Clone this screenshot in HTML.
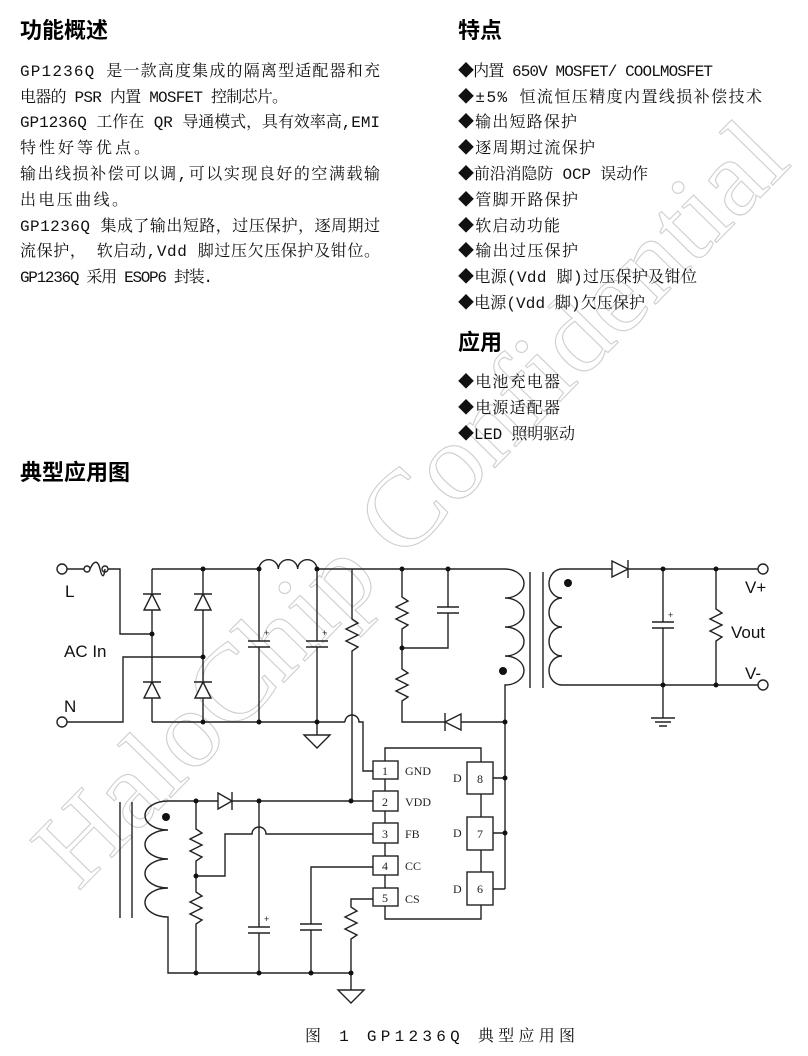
<!DOCTYPE html>
<html><head><meta charset="utf-8"><style>
html,body{margin:0;padding:0;background:#fff;width:808px;height:1056px;overflow:hidden}
svg{display:block}
.t{font-family:"Liberation Mono","Noto Serif CJK SC",monospace;font-size:16px;fill:#111}
.h{font-family:"Liberation Sans","Noto Sans CJK SC",sans-serif;font-size:22px;font-weight:bold;fill:#000}
.w{stroke:#222;stroke-width:1.4;fill:none}
.lab{font-family:"Liberation Sans",sans-serif;font-size:17px;fill:#111}
.pin{font-family:"Liberation Serif",serif;font-size:12px;fill:#222}
</style></head><body>
<svg width="808" height="1056" viewBox="0 0 808 1056" xmlns="http://www.w3.org/2000/svg">
<text transform="translate(78,892) rotate(-45.5)" font-family="Liberation Serif,serif" font-size="108" fill="none" stroke="#cfcfcf" stroke-width="1.1" textLength="1020" lengthAdjust="spacingAndGlyphs">HaloChip Confidential</text>

<text class="h" x="20" y="38">功能概述</text>
<text class="h" x="458" y="38">特点</text>
<text class="h" x="458" y="350">应用</text>
<text class="h" x="20" y="480">典型应用图</text>

<g class="t">
<text x="20" y="76" textLength="360" lengthAdjust="spacing">GP1236Q 是一款高度集成的隔离型适配器和充</text>
<text x="20" y="102" textLength="268" lengthAdjust="spacing">电器的 PSR 内置 MOSFET 控制芯片。</text>
<text x="20" y="127" textLength="360" lengthAdjust="spacing">GP1236Q 工作在 QR 导通模式，具有效率高,EMI</text>
<text x="20" y="153" textLength="130" lengthAdjust="spacing">特性好等优点。</text>
<text x="20" y="179" textLength="360" lengthAdjust="spacing">输出线损补偿可以调,可以实现良好的空满载输</text>
<text x="20" y="205" textLength="108" lengthAdjust="spacing">出电压曲线。</text>
<text x="20" y="231" textLength="360" lengthAdjust="spacing">GP1236Q 集成了输出短路，过压保护，逐周期过</text>
<text x="20" y="256" textLength="360" lengthAdjust="spacing">流保护， 软启动,Vdd 脚过压欠压保护及钳位。</text>
<text x="20" y="282" textLength="193" lengthAdjust="spacing">GP1236Q 采用 ESOP6 封装.</text>
</g>
<g class="t">
<text x="458" y="76" textLength="255" lengthAdjust="spacing">◆内置 650V MOSFET/ COOLMOSFET</text>
<text x="458" y="102" textLength="304" lengthAdjust="spacing">◆±5% 恒流恒压精度内置线损补偿技术</text>
<text x="458" y="127" textLength="119" lengthAdjust="spacing">◆输出短路保护</text>
<text x="458" y="153" textLength="137" lengthAdjust="spacing">◆逐周期过流保护</text>
<text x="458" y="179" textLength="190" lengthAdjust="spacing">◆前沿消隐防 OCP 误动作</text>
<text x="458" y="205" textLength="120" lengthAdjust="spacing">◆管脚开路保护</text>
<text x="458" y="231" textLength="102" lengthAdjust="spacing">◆软启动功能</text>
<text x="458" y="256" textLength="120" lengthAdjust="spacing">◆输出过压保护</text>
<text x="458" y="282" textLength="239" lengthAdjust="spacing">◆电源(Vdd 脚)过压保护及钳位</text>
<text x="458" y="308" textLength="187" lengthAdjust="spacing">◆电源(Vdd 脚)欠压保护</text>
<text x="458" y="387" textLength="102" lengthAdjust="spacing">◆电池充电器</text>
<text x="458" y="413" textLength="102" lengthAdjust="spacing">◆电源适配器</text>
<text x="458" y="439" textLength="117" lengthAdjust="spacing">◆LED 照明驱动</text>
</g>

<g class="w">
<circle cx="62" cy="569" r="5" fill="#fff"/>
<circle cx="62" cy="722" r="5" fill="#fff"/>
<circle cx="763" cy="569" r="5" fill="#fff"/>
<circle cx="763" cy="685" r="5" fill="#fff"/>
<path d="M67,569 H84"/><circle cx="87" cy="569" r="3"/>
<path d="M90,569 C94,560 98,560 100,569 S104,578 105,569"/>
<circle cx="105" cy="569" r="3"/>
<path d="M108,569 H120 V634 H152"/>
<path d="M67,722 H123 V657 H203"/>
<path d="M152,569 H259 M152,569 V722 M203,569 V722 M152,722 H345"/>
<path d="M259,569 a9.67,9.67 0 0 1 19.33,0 a9.67,9.67 0 0 1 19.33,0 a9.67,9.67 0 0 1 19.33,0"/>
<path d="M317,569 H505"/>
<path d="M259,569 V641 M248,641 H270 M248,647 H270 M259,647 V722"/>
<path d="M317,569 V641 M306,641 H328 M306,647 H328 M317,647 V735"/>
<path d="M304,735 H330 L317,748 Z"/>
<path d="M352,569 V619 L358,623 L346,629 L358,635 L346,641 L358,647 L352,651 V801"/>
<path d="M345,722 a7,7 0 0 1 14,0 H363 V771 H373"/>
<path d="M402,569 V597 L408,601 L396,607 L408,613 L396,619 L408,625 L402,629 V669 L408,673 L396,679 L408,685 L396,691 L408,697 L402,701 V722 H445"/>
<path d="M448,569 V607 M437,607 H459 M437,613 H459 M448,613 V648 H402"/>
<path d="M461,722 H505"/>
<path d="M505,569 a19,14.5 0 0 1 0,29 a19,14.5 0 0 1 0,29 a19,14.5 0 0 1 0,29 a19,14.5 0 0 1 0,29 V889"/>
<path d="M530,572 V688 M543,572 V688"/>
<path d="M612,569 H562 a13,14.5 0 0 0 0,29 a13,14.5 0 0 0 0,29 a13,14.5 0 0 0 0,29 a13,14.5 0 0 0 0,29 H758"/>
<path d="M628,569 H758"/>
<path d="M663,569 V622 M652,622 H674 M652,628 H674 M663,628 V718"/>
<path d="M651,718 H675 M655,722 H671 M659,726 H667"/>
<path d="M716,569 V609 L722,613 L710,619 L722,625 L710,631 L722,637 L716,641 V685"/>
<path d="M385,748 H481 V919 H385 Z" fill="#fff"/>
<rect x="373" y="761" width="25" height="18" fill="#fff"/>
<rect x="373" y="791" width="25" height="20" fill="#fff"/>
<rect x="373" y="823" width="25" height="20" fill="#fff"/>
<rect x="373" y="856" width="25" height="19" fill="#fff"/>
<rect x="373" y="888" width="25" height="18" fill="#fff"/>
<rect x="467" y="762" width="26" height="32" fill="#fff"/>
<rect x="467" y="817" width="26" height="33" fill="#fff"/>
<rect x="467" y="872" width="26" height="33" fill="#fff"/>
<path d="M493,778 H505 M493,833 H505 M493,889 H505"/>
<path d="M120,802 V918 M132,802 V918"/>
<path d="M218,801 H168 a23,14.5 0 0 0 0,29 a23,14.5 0 0 0 0,29 a23,14.5 0 0 0 0,29 a23,14.5 0 0 0 0,29 V973 H351"/>
<path d="M232,801 H373"/>
<path d="M196,801 V829 L202,833 L190,839 L202,845 L190,851 L202,857 L196,861 V892 L202,896 L190,902 L202,908 L190,914 L202,920 L196,924 V973"/>
<path d="M196,876 H225 V834 H252 a7,7 0 0 1 14,0 H373"/>
<path d="M259,801 V927 M248,927 H270 M248,933 H270 M259,933 V973"/>
<path d="M373,867 H311 V924 M300,924 H322 M300,930 H322 M311,930 V973"/>
<path d="M373,899 H351 V907 L357,911 L345,917 L357,923 L345,929 L357,935 L351,939 V990"/>
<path d="M338,990 H364 L351,1003 Z"/>
</g>
<g stroke="#222" stroke-width="1.4" fill="#fff">
<path d="M144,610 H160 L152,594 Z M143,594 H161"/>
<path d="M195,610 H211 L203,594 Z M194,594 H212"/>
<path d="M144,698 H160 L152,682 Z M143,682 H161"/>
<path d="M195,698 H211 L203,682 Z M194,682 H212"/>
<path d="M461,714 V730 L445,722 Z M445,713 V731"/>
<path d="M612,561 V577 L628,569 Z M628,560 V578"/>
<path d="M218,793 V809 L232,801 Z M232,792 V810"/>
</g>
<g fill="#111">
<circle cx="152" cy="634" r="2.5"/><circle cx="203" cy="657" r="2.5"/>
<circle cx="203" cy="569" r="2.5"/><circle cx="259" cy="569" r="2.5"/><circle cx="317" cy="569" r="2.5"/>
<circle cx="203" cy="722" r="2.5"/><circle cx="259" cy="722" r="2.5"/><circle cx="317" cy="722" r="2.5"/>
<circle cx="402" cy="569" r="2.5"/><circle cx="448" cy="569" r="2.5"/><circle cx="402" cy="648" r="2.5"/>
<circle cx="505" cy="722" r="2.5"/><circle cx="663" cy="569" r="2.5"/><circle cx="716" cy="569" r="2.5"/>
<circle cx="663" cy="685" r="2.5"/><circle cx="716" cy="685" r="2.5"/>
<circle cx="505" cy="778" r="2.5"/><circle cx="505" cy="833" r="2.5"/>
<circle cx="351" cy="801" r="2.5"/><circle cx="196" cy="801" r="2.5"/><circle cx="259" cy="801" r="2.5"/>
<circle cx="196" cy="876" r="2.5"/><circle cx="196" cy="973" r="2.5"/><circle cx="259" cy="973" r="2.5"/>
<circle cx="311" cy="973" r="2.5"/><circle cx="351" cy="973" r="2.5"/>
<circle cx="503" cy="671" r="4"/><circle cx="568" cy="583" r="4"/><circle cx="166" cy="817" r="4"/>
</g>
<g font-family="Liberation Sans,sans-serif" font-size="9" fill="#222">
<text x="264" y="636">+</text><text x="322" y="636">+</text><text x="668" y="618">+</text><text x="264" y="922">+</text>
</g>
<text class="lab" x="65" y="597">L</text>
<text class="lab" x="64" y="657">AC In</text>
<text class="lab" x="64" y="712">N</text>
<text class="lab" x="745" y="593">V+</text>
<text class="lab" x="731" y="638">Vout</text>
<text class="lab" x="745" y="679">V-</text>
<g class="pin" text-anchor="middle">
<text x="385" y="775">1</text><text x="385" y="806">2</text><text x="385" y="838">3</text><text x="385" y="870">4</text><text x="385" y="902">5</text>
<text x="480" y="783">8</text><text x="480" y="838">7</text><text x="480" y="893">6</text>
</g>
<g class="pin">
<text x="405" y="775">GND</text><text x="405" y="806">VDD</text><text x="405" y="838">FB</text><text x="405" y="870">CC</text><text x="405" y="903">CS</text>
<text x="453" y="782">D</text><text x="453" y="837">D</text><text x="453" y="893">D</text>
</g>
<text class="t" x="305" y="1041" textLength="270" lengthAdjust="spacing">图 1  GP1236Q 典型应用图</text>
</svg>
</body></html>
